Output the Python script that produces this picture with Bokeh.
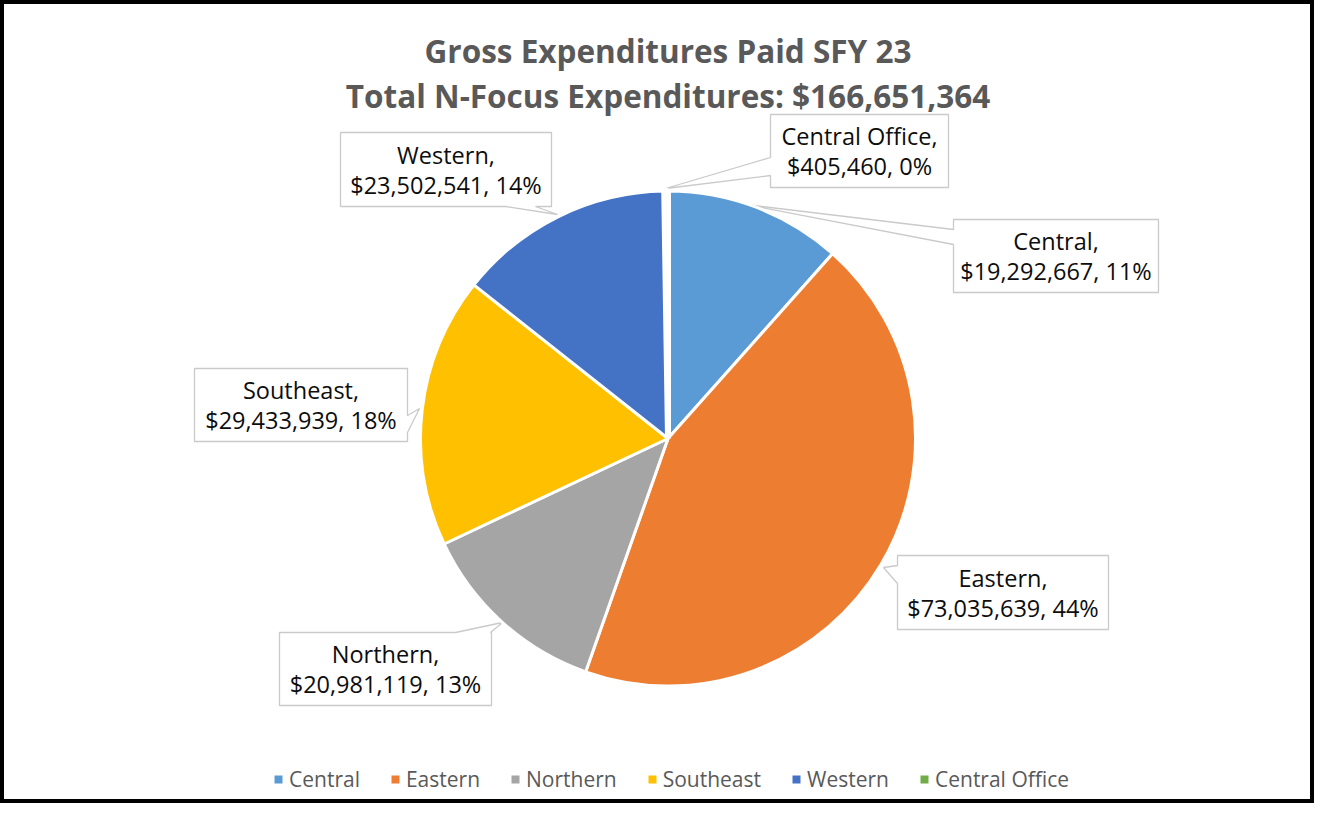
import math
import numpy as np
from bokeh.plotting import figure
from bokeh.models import Range1d, ColumnDataSource, Legend, LegendItem
from bokeh.embed import file_html
from bokeh.resources import INLINE
from bokeh.core.properties import value

# ---------------- data ----------------
categories = ["Central", "Eastern", "Northern", "Southeast", "Western", "Central Office"]
amounts = [19292667, 73035639, 20981119, 29433939, 23502541, 405460]
percent_labels = [11, 44, 13, 18, 14, 0]
colors = ["#5B9BD5", "#ED7D31", "#A5A5A5", "#FFC000", "#4472C4", "#70AD47"]
title_lines = ["Gross Expenditures Paid SFY 23",
               "Total N-Focus Expenditures: $166,651,364"]

# ---------------- layout (page pixel coordinates, y downward) ----------------
W, H, M = 1330, 819, 8
FW, FH = W - 2 * M, H - 2 * M
CX, CY, R = 667.5, 438, 247.5
slice_border = [3, 3, 3, 3, 3, 6]
# box (left, top, right, bottom), pointer side, pointer base (two coords along side), tip (x, y)
callouts = [
    ((953, 219, 1158, 292), "left", (229, 244), (745, 204)),
    ((897, 555, 1108, 629), "left", (565, 583), (883, 567)),
    ((279, 632, 491, 705), "top", (455, 490), (502, 622)),
    ((194, 368, 407, 441), "right", (415, 432), (419, 408)),
    ((340, 132, 551, 206), "bottom", (505, 535), (557, 214)),
    ((770, 114, 948, 187), "left", (157, 175), (665, 188)),
]
title_centers = [50, 95]


def Y(y):
    return H - y


p = figure(width=FW, height=FH,
           x_range=Range1d(0, FW), y_range=Range1d(H - FH, H),
           output_backend="svg", toolbar_location=None, min_border=0,
           x_axis_location=None, y_axis_location=None,
           background_fill_color="white", border_fill_color="white")
p.grid.visible = False
p.outline_line_color = "black"
p.outline_line_width = 7

# ---------------- callout boxes ----------------
xs, ys = [], []
for (l, t, r, b), side, (a0, a1), (tx, ty) in callouts:
    if side == "left":
        pts = [(l, t), (r, t), (r, b), (l, b), (l, a1), (tx, ty), (l, a0)]
    elif side == "right":
        pts = [(l, t), (r, t), (r, a0), (tx, ty), (r, a1), (r, b), (l, b)]
    elif side == "top":
        pts = [(l, t), (a0, t), (tx, ty), (a1, t), (r, t), (r, b), (l, b)]
    else:
        pts = [(l, t), (r, t), (r, b), (a1, b), (tx, ty), (a0, b), (l, b)]
    xs.append([q[0] for q in pts])
    ys.append([Y(q[1]) for q in pts])
p.patches(xs, ys, fill_color="white", line_color="#CACACA", line_width=1.3)

# ---------------- pie ----------------
total = sum(amounts)
starts, ends = [], []
cum = 0
for a in amounts:
    starts.append(math.pi / 2 - 2 * math.pi * cum / total)
    cum += a
    ends.append(math.pi / 2 - 2 * math.pi * cum / total)
src = ColumnDataSource(dict(start=starts, end=ends, color=colors, name=categories,
                            lw=slice_border))
p.wedge(x=CX, y=Y(CY), radius=R, start_angle="start", end_angle="end",
        direction="clock", fill_color="color", line_color="white",
        line_width="lw", source=src)

# ---------------- data labels ----------------
line1 = [f"{c}," for c in categories]
line2 = [f"${a:,}, {pc}%" for a, pc in zip(amounts, percent_labels)]
lx = [(c[0][0] + c[0][2]) / 2 for c in callouts]
mid = [(c[0][1] + c[0][3]) / 2 for c in callouts]
p.text(x=lx, y=[Y(m - 15) for m in mid], text=line1,
       text_font=value("Open Sans"), text_font_size="23.5px",
       text_align="center", text_baseline="middle", text_color="#0d0d0d")
p.text(x=lx, y=[Y(m + 15) for m in mid], text=line2,
       text_font=value("Open Sans"), text_font_size="23.5px",
       text_align="center", text_baseline="middle", text_color="#0d0d0d")

# ---------------- title ----------------
p.text(x=[CX, CX], y=[Y(b) for b in title_centers], text=title_lines,
       text_font=value("Open Sans"), text_font_size="31.5px", text_font_style="bold",
       text_align="center", text_baseline="middle", text_color="#595959")

# ---------------- legend ----------------
nan = np.full(len(categories), np.nan)
leg_src = ColumnDataSource(dict(l=nan, r=nan, t=nan, b=nan, color=colors))
lr = p.quad(left="l", right="r", top="t", bottom="b", fill_color="color",
            line_color=None, source=leg_src)
items = [LegendItem(label=c, renderers=[lr], index=i) for i, c in enumerate(categories)]
legend = Legend(items=items, orientation="horizontal", location=(273, 10),
                glyph_width=10, glyph_height=10, label_standoff=6, spacing=30,
                padding=0, margin=0, border_line_color=None,
                background_fill_alpha=0,
                label_text_font="Open Sans", label_text_font_size="21px",
                label_text_color="#595959")
p.add_layout(legend)

open("out.html", "w").write(file_html(p, INLINE))
